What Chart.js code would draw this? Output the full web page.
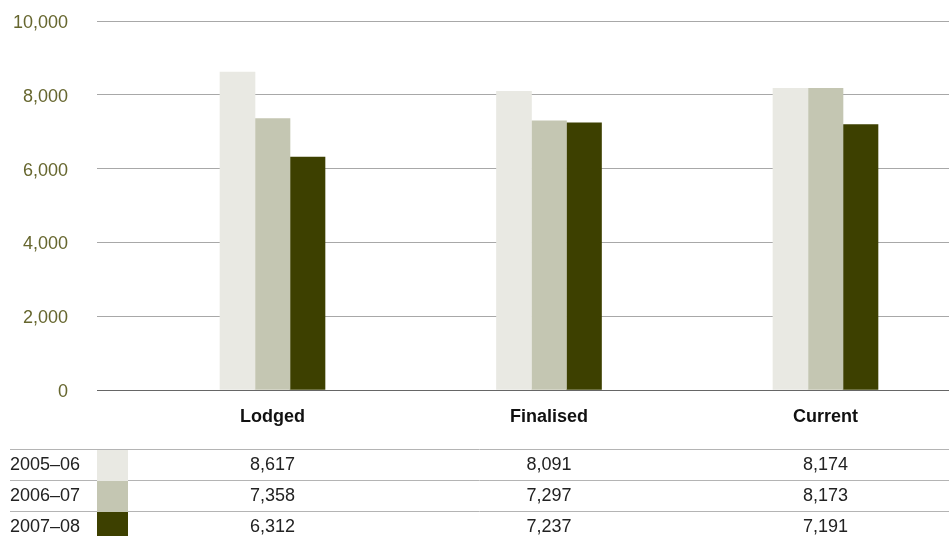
<!DOCTYPE html>
<html>
<head>
<meta charset="utf-8">
<script src="https://cdn.jsdelivr.net/npm/chart.js@4/dist/chart.umd.min.js"></script>
<style>
  html, body { margin: 0; padding: 0; background: #ffffff; }
  #wrap { width: 949px; height: 536px; position: relative; }
</style>
</head>
<body>
<div id="wrap"><canvas id="c" width="949" height="536"></canvas></div>
<script>
// Applications by status, three financial years
const categories = ['Lodged', 'Finalised', 'Current'];
const years = ['2005–06', '2006–07', '2007–08'];
const values2005 = [8617, 8091, 8174];
const values2006 = [7358, 7297, 8173];
const values2007 = [6312, 7237, 7191];
const yTicks = [0, 2000, 4000, 6000, 8000, 10000];

const seriesValues = [values2005, values2006, values2007];
const seriesColors = ['#e9e9e3', '#c4c6b2', '#3d4000'];

const FONT = '"Liberation Sans", Arial, Helvetica, sans-serif';

const datasets = years.map((yr, s) => ({
  label: yr,
  data: seriesValues[s].map((v, i) => ({ x: i, y: v })),
  backgroundColor: seriesColors[s],
  borderWidth: 0,
  barThickness: 35
}));

// Data table under the plot, columns aligned with the category positions
const tablePlugin = {
  id: 'dataTable',
  afterDraw(chart) {
    const ctx = chart.ctx;
    const xs = chart.scales.x;
    const lineYs = [449.5, 480.5, 511.5];
    ctx.save();
    ctx.strokeStyle = '#b4b4b4';
    ctx.lineWidth = 1;
    lineYs.forEach(y => {
      ctx.beginPath();
      ctx.moveTo(10, y);
      ctx.lineTo(949, y);
      ctx.stroke();
    });
    years.forEach((yr, r) => {
      const top = lineYs[r] + 0.5;
      const h = r < 2 ? lineYs[r + 1] - lineYs[r] : 536 - top;
      ctx.fillStyle = seriesColors[r];
      ctx.fillRect(97, top, 31, h);
      const cy = top + 15.5;
      ctx.font = '18px ' + FONT;
      ctx.textBaseline = 'middle';
      ctx.fillStyle = '#222222';
      ctx.textAlign = 'left';
      ctx.fillText(yr, 10, cy);
      ctx.textAlign = 'center';
      seriesValues[r].forEach((v, i) => {
        ctx.fillText(v.toLocaleString('en-US'), xs.getPixelForValue(i), cy);
      });
    });
    ctx.restore();
  }
};

new Chart(document.getElementById('c'), {
  type: 'bar',
  data: { datasets },
  options: {
    responsive: false,
    animation: false,
    events: [],
    layout: { padding: { top: 21, right: 0, bottom: 0, left: 0 } },
    plugins: { legend: { display: false }, tooltip: { enabled: false } },
    scales: {
      x: {
        type: 'linear',
        offset: false,
        min: -0.6347,
        max: 2.4467,
        afterBuildTicks(scale) {
          scale.ticks = categories.map((c, i) => ({ value: i }));
        },
        afterFit(scale) { scale.height = 146; },
        grid: { display: false, drawTicks: false },
        border: { display: true, color: '#666666', width: 1 },
        ticks: {
          autoSkip: false,
          maxRotation: 0,
          padding: 16,
          color: '#111111',
          font: { family: FONT, size: 18, weight: 'bold' },
          callback: (v) => categories[v]
        }
      },
      y: {
        min: 0,
        max: 10000,
        afterBuildTicks(scale) {
          scale.ticks = yTicks.map(v => ({ value: v }));
        },
        afterFit(scale) {
          scale.width = 97;
          scale.paddingTop = 0;
          scale.paddingBottom = 0;
        },
        grid: {
          color: (c) => c.tick && c.tick.value === 0 ? '#666666' : '#a8a8a8',
          lineWidth: 1,
          drawTicks: false
        },
        border: { display: false },
        ticks: {
          padding: 29,
          labelOffset: 2,
          color: '#66662e',
          font: { family: FONT, size: 18 },
          callback: (v) => v.toLocaleString('en-US')
        }
      }
    }
  },
  plugins: [tablePlugin]
});
</script>
</body>
</html>
